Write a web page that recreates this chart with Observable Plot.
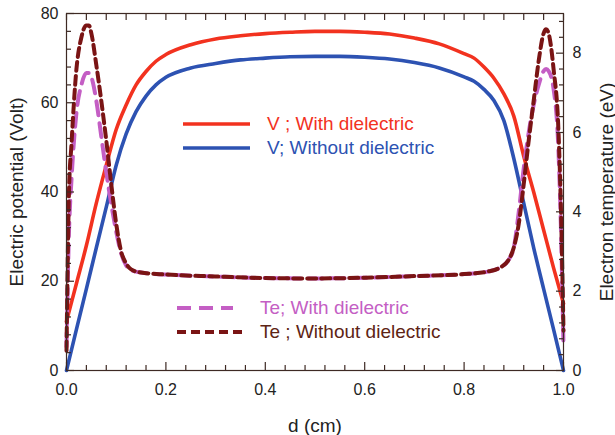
<!DOCTYPE html>
<html>
<head>
<meta charset="utf-8">
<script src="https://cdn.jsdelivr.net/npm/d3@7"></script>
<script src="https://cdn.jsdelivr.net/npm/@observablehq/plot@0.6"></script>
<style>
  html, body { margin: 0; padding: 0; background: #fff; }
  #wrap { position: relative; width: 615px; height: 435px; font-family: "Liberation Sans", Arial, sans-serif; }
  .sw { position: absolute; }
  .lt { position: absolute; font-size: 19px; white-space: nowrap; line-height: 20px; }
</style>
</head>
<body>
<div id="wrap"></div>
<script>
// ---- data ----
const xV       = [0, 0.02, 0.04, 0.06, 0.08, 0.10, 0.12, 0.14, 0.16, 0.18, 0.20, 0.25, 0.30, 0.35, 0.40, 0.45, 0.50, 0.55, 0.60, 0.65, 0.70, 0.75, 0.80, 0.82, 0.84, 0.86, 0.88, 0.90, 0.92, 0.94, 0.96, 0.98, 1.0];
const vWith    = [11, 19.5, 28, 37.5, 46, 54, 59.5, 64, 67, 69.3, 70.8, 73, 74.3, 75, 75.5, 75.8, 76, 76, 75.8, 75.4, 74.5, 73.2, 71, 70, 68, 65.5, 62, 57, 48, 40, 31.5, 23, 15];
const vWithout = [0, 9.2, 18.3, 27.5, 36.6, 46, 53, 58, 61.5, 64, 65.7, 67.8, 68.8, 69.6, 70, 70.3, 70.4, 70.4, 70.2, 69.8, 69, 67.8, 65.8, 64.8, 63, 60.5, 56, 47.5, 37.5, 27.5, 18.3, 9.2, 0];

const xTe       = [0, 0.005, 0.01, 0.02, 0.03, 0.04, 0.045, 0.05, 0.06, 0.07, 0.08, 0.09, 0.10, 0.11, 0.12, 0.13, 0.15, 0.20, 0.30, 0.40, 0.50, 0.60, 0.70, 0.80, 0.85, 0.87, 0.89, 0.90, 0.91, 0.92, 0.93, 0.94, 0.95, 0.96, 0.965, 0.97, 0.98, 0.99, 0.995, 1.0];
const teWith    = [0.6, 3.5, 4.8, 6.5, 7.2, 7.5, 7.5, 7.4, 6.8, 5.9, 5.0, 4.2, 3.5, 2.95, 2.65, 2.53, 2.47, 2.42, 2.37, 2.33, 2.32, 2.34, 2.38, 2.43, 2.5, 2.58, 2.8, 3.1, 4.0, 5.1, 6.0, 6.7, 7.2, 7.55, 7.6, 7.55, 7.1, 5.5, 3.5, 0.6];
const teWithout = [0.5, 4.5, 5.7, 7.6, 8.4, 8.7, 8.7, 8.5, 7.7, 6.8, 5.8, 4.7, 3.7, 3.0, 2.7, 2.55, 2.47, 2.42, 2.37, 2.33, 2.32, 2.34, 2.38, 2.43, 2.5, 2.58, 2.8, 3.1, 3.7, 4.7, 5.8, 6.8, 7.8, 8.5, 8.6, 8.5, 7.6, 6.0, 4.0, 1.0];

const xMajor  = [0, 0.2, 0.4, 0.6, 0.8, 1.0];
const xMinor  = [0.04, 0.08, 0.12, 0.16, 0.24, 0.28, 0.32, 0.36, 0.44, 0.48, 0.52, 0.56, 0.64, 0.68, 0.72, 0.76, 0.84, 0.88, 0.92, 0.96];
const vMajor  = [0, 20, 40, 60, 80];
const vMinor  = [4, 8, 12, 16, 24, 28, 32, 36, 44, 48, 52, 56, 64, 68, 72, 76];
const teMajor = [0, 2, 4, 6, 8];
const teMinor = [0.4, 0.8, 1.2, 1.6, 2.4, 2.8, 3.2, 3.6, 4.4, 4.8, 5.2, 5.6, 6.4, 6.8, 7.2, 7.6, 8.4, 8.8];

const seriesV = [
  {name: "V ; With dielectric",    color: "#f2321f", values: vWith},
  {name: "V; Without dielectric",  color: "#2d52b2", values: vWithout}
];
const seriesTe = [
  {name: "Te; With dielectric",     color: "#c45ec4", text: "#c45ec4", values: teWith,    dash: "14,8"},
  {name: "Te ; Without dielectric", color: "#7a1414", text: "#5e2414", values: teWithout, dash: "9,5"}
];

// ---- build ----
const teMax = 9, vMax = 80, k = vMax / teMax;   // right axis mapped onto left scale
const frameColor = "#3e2a24";
const none = () => "";
const MJ = 8, MN = 5;

const rowsV = seriesV.flatMap(s => xV.map((x, i) => ({x, y: s.values[i], s: s.name})));
const rowsTe = seriesTe.flatMap(s => xTe.map((x, i) => ({x, y: s.values[i] * k, s: s.name})));

const tickOpts = {tickFormat: none, label: null, stroke: frameColor, strokeWidth: 1.2};
const marks = [
  // curves
  ...seriesV.map(s => Plot.line(rowsV.filter(d => d.s === s.name), {x: "x", y: "y", stroke: s.color, strokeWidth: 3.6, curve: "monotone-x"})),
  ...seriesTe.map(s => Plot.line(rowsTe.filter(d => d.s === s.name), {x: "x", y: "y", stroke: s.color, strokeWidth: 4, strokeDasharray: s.dash, curve: "monotone-x"})),
  // ticks (inward: drawn outward then shifted back inside the frame)
  Plot.axisX({anchor: "bottom", ticks: xMajor, tickSize: MJ, dy: -MJ, ...tickOpts}),
  Plot.axisX({anchor: "bottom", ticks: xMinor, tickSize: MN, dy: -MN, ...tickOpts}),
  Plot.axisX({anchor: "top", ticks: xMajor.concat(xMinor), tickSize: 6, dy: 6, ...tickOpts}),
  Plot.axisY({anchor: "left", ticks: vMajor, tickSize: MJ, dx: MJ, ...tickOpts}),
  Plot.axisY({anchor: "left", ticks: vMinor, tickSize: MN, dx: MN, ...tickOpts}),
  Plot.axisY({anchor: "right", ticks: teMajor.map(t => t * k), tickSize: MJ, dx: -MJ, ...tickOpts}),
  Plot.axisY({anchor: "right", ticks: teMinor.map(t => t * k), tickSize: MN, dx: -MN, ...tickOpts}),
  // tick labels
  Plot.axisX({anchor: "bottom", ticks: xMajor, tickSize: 0, tickPadding: 13, tickFormat: d3.format(".1f"), label: null, fontSize: 16}),
  Plot.axisY({anchor: "left", ticks: vMajor, tickSize: 0, tickPadding: 8, tickFormat: d3.format("d"), label: null, fontSize: 16}),
  Plot.axisY({anchor: "right", ticks: teMajor.map(t => t * k), tickSize: 0, tickPadding: 9, tickFormat: d => d3.format("d")(Math.round(d / k)), label: null, fontSize: 16}),
  // axis titles
  Plot.axisX({anchor: "bottom", ticks: [], label: "d (cm)", labelAnchor: "center", labelOffset: 61, labelArrow: "none", fontSize: 19}),
  Plot.axisY({anchor: "left", ticks: [], label: "Electric potential (Volt)", labelAnchor: "center", labelOffset: 57, labelArrow: "none", fontSize: 19}),
  Plot.axisY({anchor: "right", ticks: [], label: "Electron temperature (eV)", labelAnchor: "center", labelOffset: 49, labelArrow: "none", fontSize: 19}),
  Plot.frame({stroke: frameColor, strokeWidth: 1.2})
];

const chart = Plot.plot({
  width: 615,
  height: 435,
  marginLeft: 66,
  marginRight: 52,
  marginTop: 13,
  marginBottom: 65,
  style: {fontFamily: "'Liberation Sans', Arial, sans-serif", fontSize: "16px", color: "#222", background: "#fff"},
  x: {domain: [0, 1], axis: null},
  y: {domain: [0, vMax], axis: null},
  marks
});

const wrap = document.getElementById("wrap");
wrap.appendChild(chart);

// ---- legends (overlay) ----
function addLegend(items, swLeft, textLeft, top, gap) {
  items.forEach((s, i) => {
    const y = top + i * gap;
    const w = s.swatch;
    const sw = document.createElement("div");
    sw.className = "sw";
    sw.style.left = swLeft + "px";
    sw.style.top = (y - 4) + "px";
    sw.innerHTML = `<svg width="${w}" height="8" style="display:block"><line x1="0" x2="${w}" y1="4" y2="4" stroke="${s.color}" stroke-width="${s.dash ? 4 : 3.6}" ${s.dash ? `stroke-dasharray="${s.dash}"` : ""}/></svg>`;
    wrap.appendChild(sw);
    const t = document.createElement("div");
    t.className = "lt";
    t.style.left = textLeft + "px";
    t.style.top = (y - 10) + "px";
    t.style.color = s.text || s.color;
    t.textContent = s.name;
    wrap.appendChild(t);
  });
}
addLegend(seriesV.map(s => ({...s, swatch: 67})), 183, 267, 124, 24);
addLegend(seriesTe.map((s, i) => ({...s, swatch: i ? 66 : 56})), 177, 260, 308, 24);
</script>
</body>
</html>
